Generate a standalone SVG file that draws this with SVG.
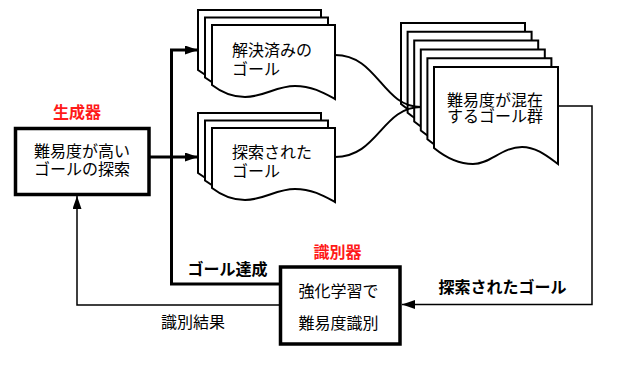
<svg xmlns="http://www.w3.org/2000/svg" xmlns:xlink="http://www.w3.org/1999/xlink" width="642" height="369" viewBox="0 0 642 369">
<style>
  .t { font-family: "Noto Sans CJK JP", "Noto Sans", sans-serif; font-size: 16px; fill: #000; }
  .b { font-weight: bold; }
  .red { fill: #ff1a1a; font-weight: bold; }
  .box { fill: #fff; stroke: #000; stroke-width: 3.5; }
  .page { fill: #fff; stroke: #000; stroke-width: 2; stroke-linejoin: miter; }
  .thick { fill: none; stroke: #000; stroke-width: 3; }
  .thin { fill: none; stroke: #000; stroke-width: 1.5; }
  .curve { fill: none; stroke: #000; stroke-width: 2; }
</style>
<defs>
  <path id="pageS" d="M0,0 H123 V74 C112,68 100,61 83,61 C64,61 52,72 33,72 C20,72 9,67 0,60 Z"/>
  <path id="pageL" d="M0,0 H124 V97 C113,89 102,80 88,80 C68,80 56,97 39,97 C24,97 11,90 0,81 Z"/>
  <marker id="ah" markerUnits="userSpaceOnUse" markerWidth="14" markerHeight="10" refX="13" refY="4.5" orient="auto">
    <path d="M0,0 L13,4.5 L0,9 Z" fill="#000"/>
  </marker>
</defs>
<rect width="642" height="369" fill="#fff"/>

<g id="generator">
  <text class="t red" x="77" y="118" text-anchor="middle">生成器</text>
  <rect class="box" x="15.5" y="128.5" width="133.5" height="66"/>
  <text class="t" x="82" y="157" text-anchor="middle">難易度が高い</text>
  <text class="t" x="82" y="174.5" text-anchor="middle">ゴールの探索</text>
</g>

<g id="solved-goals">
  <use href="#pageS" class="page" x="198" y="10"/>
  <use href="#pageS" class="page" x="205" y="17.5"/>
  <use href="#pageS" class="page" x="212" y="25"/>
  <text class="t" x="232" y="56">解決済みの</text>
  <text class="t" x="232" y="75">ゴール</text>
</g>

<g id="explored-goals">
  <use href="#pageS" class="page" x="198" y="113"/>
  <use href="#pageS" class="page" x="205" y="120.5"/>
  <use href="#pageS" class="page" x="212" y="128"/>
  <text class="t" x="232" y="158">探索された</text>
  <text class="t" x="232" y="177">ゴール</text>
</g>

<g id="mixed-goals">
  <use href="#pageL" class="page" x="401" y="23"/>
  <use href="#pageL" class="page" x="407.6" y="31.8"/>
  <use href="#pageL" class="page" x="414.2" y="40.6"/>
  <use href="#pageL" class="page" x="420.8" y="49.4"/>
  <use href="#pageL" class="page" x="427.4" y="58.2"/>
  <use href="#pageL" class="page" x="434" y="67"/>
  <text class="t" x="447" y="105.5">難易度が混在</text>
  <text class="t" x="447" y="122">するゴール群</text>
</g>

<g id="discriminator">
  <text class="t red" x="337.5" y="257.5" text-anchor="middle">識別器</text>
  <rect class="box" x="280.5" y="267" width="119.5" height="77"/>
  <text class="t" x="338.5" y="296.5" text-anchor="middle">強化学習で</text>
  <text class="t" x="338.5" y="328.5" text-anchor="middle">難易度識別</text>
</g>

<g id="connectors">
  <line class="thick" x1="149" y1="157" x2="198" y2="157" marker-end="url(#ah)"/>
  <polyline class="thick" points="280,284 171.5,284 171.5,50 198,50" marker-end="url(#ah)"/>
  <path class="curve" d="M335,55 C378,55 382,107 421,107"/>
  <path class="curve" d="M335,157 C378,157 382,107 421,107"/>
  <polyline class="thin" points="558,106 592,106 592,304.5 402,304.5" marker-end="url(#ah)"/>
  <polyline class="thin" points="280,305 77,305 77,196" marker-end="url(#ah)"/>
  <text class="t b" x="227.5" y="274.5" text-anchor="middle">ゴール達成</text>
  <text class="t b" x="502.5" y="292.5" text-anchor="middle">探索されたゴール</text>
  <text class="t" x="193" y="327.5" text-anchor="middle">識別結果</text>
</g>
</svg>
